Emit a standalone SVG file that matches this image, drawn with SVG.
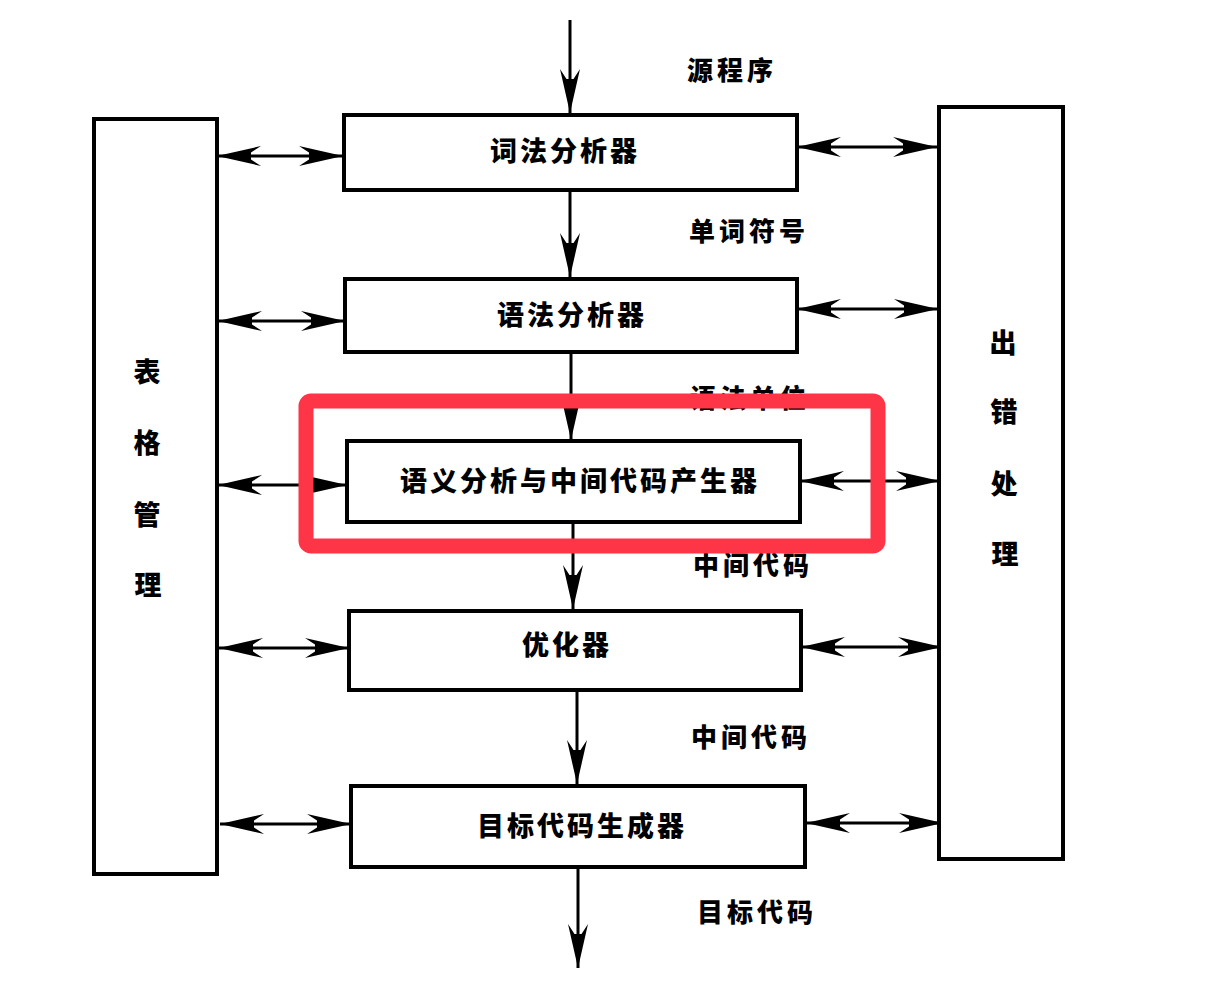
<svg xmlns="http://www.w3.org/2000/svg" width="1214" height="994" viewBox="0 0 1214 994">
<style>
.box{fill:#fff;stroke:#000;stroke-width:4}
.con{fill:none;stroke:#000;stroke-width:3}
.t{font-family:"Noto Sans CJK SC","Noto Sans",sans-serif;font-weight:900;fill:#000;text-anchor:middle;dominant-baseline:central}
.bt{font-size:27px;letter-spacing:3px}
.lt{font-size:26px;letter-spacing:4px}
.vt{font-size:27px}
.hl{fill:none;stroke:#FD3547;stroke-width:15}
</style>
<defs>
<marker id="ah" markerUnits="userSpaceOnUse" viewBox="-46 -12 48 24" markerWidth="48" markerHeight="24" refX="0" refY="0" orient="auto-start-reverse">
<path d="M0,0 L-44,-10 L-34,-3.5 L-34,3.5 L-44,10 Z" fill="#000"/>
</marker>
</defs>
<g id="connectors">
<line class="con" x1="570" y1="20" x2="570" y2="113" marker-end="url(#ah)"/>
<line class="con" x1="570" y1="190" x2="570" y2="277" marker-end="url(#ah)"/>
<line class="con" x1="571" y1="352" x2="571" y2="440" marker-end="url(#ah)"/>
<line class="con" x1="573" y1="522" x2="573" y2="609" marker-end="url(#ah)"/>
<line class="con" x1="577" y1="690" x2="577" y2="784" marker-end="url(#ah)"/>
<line class="con" x1="578" y1="867" x2="578" y2="968" marker-end="url(#ah)"/>
<line class="con" x1="217" y1="156" x2="343" y2="156" marker-start="url(#ah)" marker-end="url(#ah)"/>
<line class="con" x1="218" y1="321" x2="345" y2="321" marker-start="url(#ah)" marker-end="url(#ah)"/>
<line class="con" x1="218" y1="485" x2="347" y2="485" marker-start="url(#ah)" marker-end="url(#ah)"/>
<line class="con" x1="219" y1="648" x2="349" y2="648" marker-start="url(#ah)" marker-end="url(#ah)"/>
<line class="con" x1="220" y1="824" x2="351" y2="824" marker-start="url(#ah)" marker-end="url(#ah)"/>
<line class="con" x1="797" y1="147" x2="937" y2="147" marker-start="url(#ah)" marker-end="url(#ah)"/>
<line class="con" x1="797" y1="309" x2="938" y2="309" marker-start="url(#ah)" marker-end="url(#ah)"/>
<line class="con" x1="800" y1="481" x2="940" y2="481" marker-start="url(#ah)" marker-end="url(#ah)"/>
<line class="con" x1="801" y1="647" x2="942" y2="647" marker-start="url(#ah)" marker-end="url(#ah)"/>
<line class="con" x1="806" y1="823" x2="943" y2="823" marker-start="url(#ah)" marker-end="url(#ah)"/>
</g>
<g id="table-mgmt">
<rect class="box" x="94" y="119" width="123" height="755"/>
<text class="t vt" x="147" y="370">表</text>
<text class="t vt" x="147" y="441">格</text>
<text class="t vt" x="147" y="513">管</text>
<text class="t vt" x="148" y="583">理</text>
</g>
<g id="error-handling">
<rect class="box" x="939" y="107" width="124" height="752"/>
<text class="t vt" x="1003" y="341">出</text>
<text class="t vt" x="1004" y="410">错</text>
<text class="t vt" x="1004" y="482">处</text>
<text class="t vt" x="1005" y="552">理</text>
</g>
<g id="lexer">
<rect class="box" x="344" y="115" width="453" height="75"/>
<text class="t bt" x="565" y="149">词法分析器</text>
</g>
<g id="parser">
<rect class="box" x="345" y="279" width="452" height="73"/>
<text class="t bt" x="572" y="313">语法分析器</text>
</g>
<g id="semantic">
<rect class="box" x="347" y="441" width="453" height="81"/>
<text class="t bt" x="580" y="479">语义分析与中间代码产生器</text>
</g>
<g id="optimizer">
<rect class="box" x="349" y="611" width="452" height="79"/>
<text class="t bt" x="567" y="643">优化器</text>
</g>
<g id="codegen">
<rect class="box" x="351" y="786" width="454" height="81"/>
<text class="t bt" x="582" y="824">目标代码生成器</text>
</g>
<g id="labels">
<text class="t lt" x="732" y="68">源程序</text>
<text class="t lt" x="749" y="229">单词符号</text>
<text class="t lt" x="750" y="396">语法单位</text>
<text class="t lt" x="753" y="563">中间代码</text>
<text class="t lt" x="751" y="735">中间代码</text>
<text class="t lt" x="757" y="910">目标代码</text>
</g>
<g id="highlight">
<rect class="hl" x="306" y="401" width="572" height="145" rx="5"/>
</g>
</svg>
